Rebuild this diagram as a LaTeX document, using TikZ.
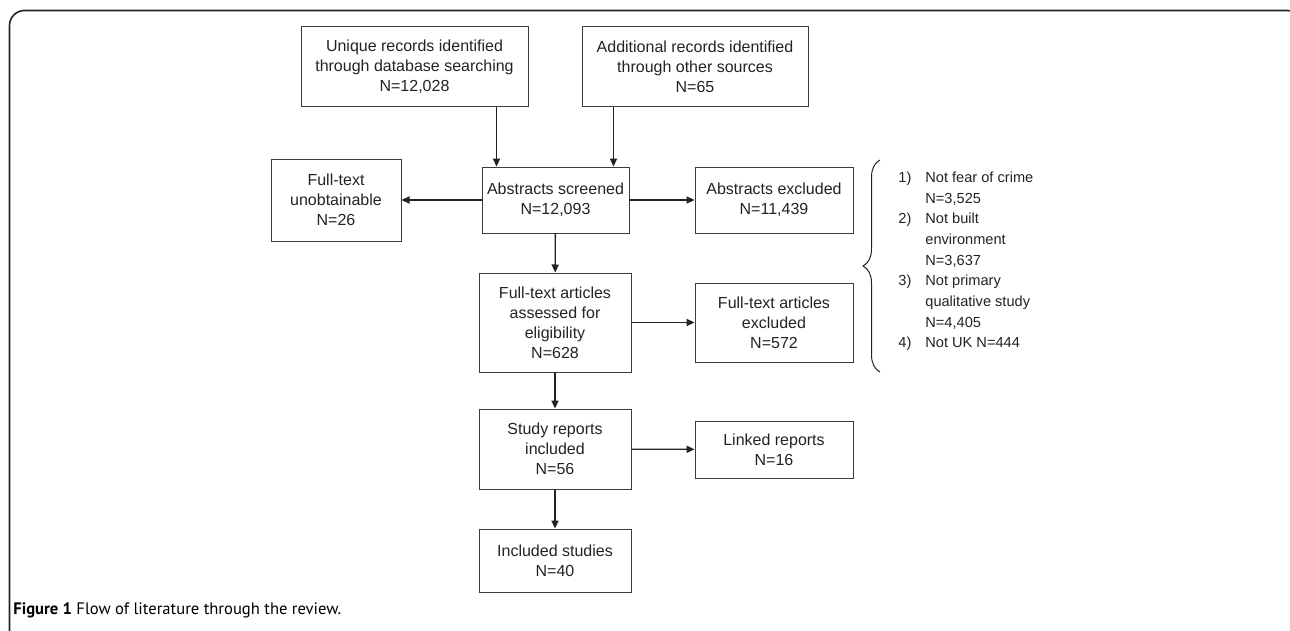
\documentclass[tikz,border=0pt]{standalone}
\usepackage{fontspec}
\setmainfont{Liberation Sans}
\newfontfamily\capfont{PT Sans}
\usetikzlibrary{arrows.meta,decorations.pathreplacing}
\definecolor{boxline}{RGB}{60,60,60}
\definecolor{inktext}{RGB}{35,35,35}

\begin{document}
\begin{tikzpicture}[x=0.5pt,y=-0.5pt,
  box/.style={draw=boxline,line width=0.5pt,align=center,inner sep=2pt,
    font=\fontsize{8}{10}\selectfont,text=inktext},
  arr/.style={-{Triangle[length=4pt,width=3.6pt]},line width=0.65pt,draw=inktext},
  brc/.style={decorate,decoration={brace,amplitude=8.5pt},line width=0.5pt,draw=inktext}
]
\useasboundingbox (0,0) rectangle (1290,631);
\draw[line width=0.8pt,draw=inktext,rounded corners=7.5pt]
  (9.5,700) -- (9.5,10.5) -- (1302,10.5) -- (1302,700);

\node[box,minimum width=113.5pt,minimum height=40pt]
  (DB) at (414.5,67) {Unique records identified\\through database searching\\N=12,028};
\node[box,minimum width=113pt,minimum height=40pt]
  (OS) at (695,67) {Additional records identified\\through other sources\\N=65};

\node[box,minimum width=73.5pt,minimum height=33pt]
  (AS) at (555.5,200) {Abstracts screened\\N=12,093};
\node[box,minimum width=65pt,minimum height=41pt]
  (FU) at (336,200) {Full-text\\unobtainable\\N=26};
\node[box,minimum width=79pt,minimum height=33pt]
  (AE) at (774,200) {Abstracts excluded\\N=11,439};

\node[box,minimum width=76pt,minimum height=49.5pt]
  (FA) at (555,322.5) {Full-text articles\\assessed for\\eligibility\\N=628};
\node[box,minimum width=79pt,minimum height=39.5pt]
  (FE) at (774,322.5) {Full-text articles\\excluded\\N=572};

\node[box,minimum width=76pt,minimum height=40pt]
  (SR) at (555,449) {Study reports\\included\\N=56};
\node[box,minimum width=79pt,minimum height=28.5pt]
  (LR) at (774,449.5) {Linked reports\\N=16};

\node[box,minimum width=76pt,minimum height=31.5pt]
  (IS) at (555,560.5) {Included studies\\N=40};

\coordinate (BT) at (880,160);
\coordinate (BB) at (880,372);
\node[anchor=west,inner sep=0pt,font=\fontsize{7.3}{10.35}\selectfont,text=inktext]
  (RS) at (898,261) {\begin{tabular}{@{}l@{\hspace{7pt}}l@{}}
  1) & Not fear of crime\\ & N=3,525\\
  2) & Not built\\ & environment\\ & N=3,637\\
  3) & Not primary\\ & qualitative study\\ & N=4,405\\
  4) & Not UK N=444\end{tabular}};

\node[anchor=base west,inner sep=0pt,font=\capfont\fontsize{8.3}{10}\selectfont,text=black]
  (CAP) at (13,614) {\textbf{Figure 1} Flow of literature through the review.};

\draw[arr] ([xshift=7.5pt]AS.north west |- DB.south) -- ([xshift=7.5pt]AS.north west);
\draw[arr] ([xshift=-8pt]AS.north east |- OS.south) -- ([xshift=-8pt]AS.north east);
\draw[arr] (AS) -- (FU);
\draw[arr] (AS) -- (AE);
\draw[arr] (AS) -- (FA);
\draw[arr] (FA) -- (FE);
\draw[arr] (FA) -- (SR);
\draw[arr] (SR) -- (LR);
\draw[arr] (SR) -- (IS);
\draw[brc] (BB) -- (BT);
\end{tikzpicture}
\end{document}
